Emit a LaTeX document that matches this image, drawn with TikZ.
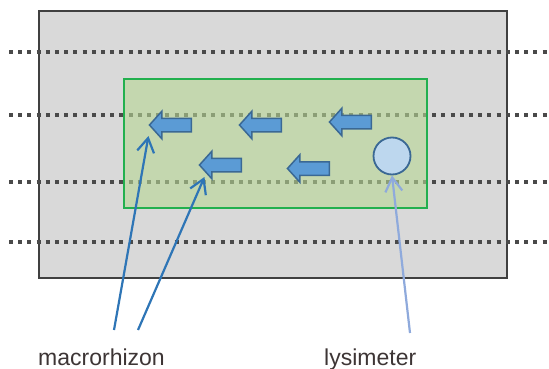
\documentclass[tikz,border=0pt]{standalone}
\usepackage{fontspec}
\newfontfamily\labelfont{Liberation Sans}
\usetikzlibrary{shapes.arrows,arrows.meta,calc}

\definecolor{soilgray}{HTML}{D9D9D9}
\definecolor{soilframe}{HTML}{404040}
\definecolor{layerdot}{HTML}{4A4A4A}
\definecolor{zonefill}{HTML}{B7D794}
\definecolor{zoneframe}{HTML}{22B04E}
\definecolor{flowfill}{HTML}{5B9BD5}
\definecolor{flowframe}{HTML}{3A6894}
\definecolor{lysifill}{HTML}{BDD7EE}
\definecolor{macroline}{HTML}{2E75B6}
\definecolor{lysiline}{HTML}{8FAADC}
\definecolor{labeltext}{HTML}{3D3535}

\tikzset{
  soilbox/.style={fill=soilgray, draw=soilframe, line width=2.2pt},
  layerline/.style={draw=layerdot, line width=3.8pt, dash pattern=on 4pt off 5.2pt},
  zonebox/.style={fill=zonefill, fill opacity=0.6, draw=zoneframe, draw opacity=1, line width=2pt},
  flow/.style={single arrow, shape border rotate=180, fill=flowfill, draw=flowframe,
    line width=1.5pt, inner xsep=0pt, inner ysep=6pt, minimum height=42pt,
    single arrow head extend=7pt, single arrow head indent=0pt, single arrow tip angle=96},
  lysinode/.style={circle, fill=lysifill, draw=flowframe, line width=1.8pt,
    minimum size=37pt, inner sep=0pt},
  conn/.style={line width=2.2pt, -{Straight Barb[length=14pt, width=17pt, line width=2.2pt]}},
  tag/.style={font=\labelfont\fontsize{23}{23}\selectfont, text=labeltext, inner sep=0pt, anchor=base west},
}

\begin{document}
\begin{tikzpicture}[x=1pt, y=-1pt]
  \useasboundingbox (0,0) rectangle (549,369);

  % soil block
  \draw[soilbox] (39,11) rectangle (507,278);

  % soil layers
  \foreach \ly in {52,115,182,242}
    \draw[layerline] (9,\ly) -- (549,\ly);

  % root zone
  \draw[zonebox] (124,79) rectangle (427,208);

  % lateral flow arrows
  \node[flow] (a1) at (173.5,125) {};
  \node[flow] (a2) at (263.5,125) {};
  \node[flow] (a3) at (353.5,122) {};
  \node[flow] (a4) at (223.5,165) {};
  \node[flow] (a5) at (311.5,168.5) {};

  % lysimeter
  \node[lysinode] (lys) at (392,156) {};

  % labels
  \node[tag] (lmac) at (38,365.5) {macrorhizon};
  \node[tag] (llys) at (324,365.5) {lysimeter};

  \coordinate (m1) at (114,330);
  \coordinate (m2) at (138,330);
  \coordinate (l1) at (410,333);

  % pointers
  \draw[conn, draw=macroline] (m1) -- ($(a1.tip)+(0,11)$);
  \draw[conn, draw=macroline] (m2) -- ($(a4.tip)+(6,12)$);
  \draw[conn, draw=lysiline] (l1) -- (lys.south);
\end{tikzpicture}
\end{document}
